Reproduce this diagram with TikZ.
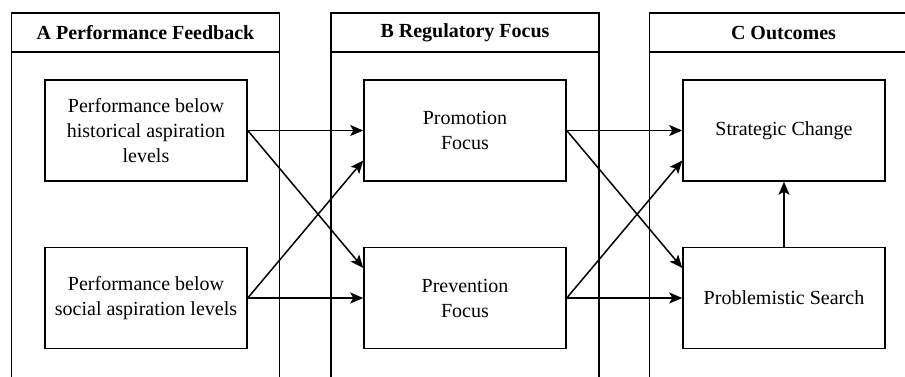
\documentclass[tikz,border=0pt]{standalone}
\usepackage{fontspec}
\setmainfont{Liberation Serif}
\usetikzlibrary{arrows.meta}
\begin{document}
\begin{tikzpicture}[x=1pt,y=-1pt, line width=1.5pt,
 box/.style={draw, fill=white, rectangle, minimum width=202pt, minimum height=101pt, align=center, font=\fontsize{20}{25}\selectfont, inner sep=0pt},
 lanehead/.style={draw, rectangle, minimum width=268pt, minimum height=39pt, font=\bfseries\fontsize{20}{24}\selectfont, inner sep=0pt},
 lanebody/.style={draw, rectangle, minimum width=268pt, minimum height=360pt, inner sep=0pt},
 arr/.style={-{Stealth[length=13pt,width=11pt,inset=3pt]}}]
\useasboundingbox (0,0) rectangle (905,376);
\clip (0,0) rectangle (905,376);
% lanes
\node[lanehead] (ha) at (145.5,32.5) {A Performance Feedback};
\node[lanebody] (la) at (145.5,232) {};
\node[lanehead] (hb) at (465,32.5) {B Regulatory Focus};
\node[lanebody] (lb) at (465,232) {};
\node[lanehead] (hc) at (783.5,32.5) {C Outcomes};
\node[lanebody] (lc) at (783.5,232) {};
% boxes
\node[box] (hist) at (146,130.5) {Performance below\\historical aspiration\\levels};
\node[box] (soc) at (146,298) {Performance below\\social aspiration levels};
\node[box] (prom) at (465,130.5) {Promotion\\Focus};
\node[box] (prev) at (465,298) {Prevention\\Focus};
\node[box] (strat) at (784,130.5) {Strategic Change};
\node[box] (prob) at (784,298) {Problemistic Search};
% arrows
\draw[arr] (hist.east) -- (prom.west);
\draw[arr] (hist.east) -- ([yshift=30pt]prev.west);
\draw[arr] (soc.east) -- ([yshift=-30pt]prom.west);
\draw[arr] (soc.east) -- (prev.west);
\draw[arr] (prom.east) -- (strat.west);
\draw[arr] (prom.east) -- ([yshift=30pt]prob.west);
\draw[arr] (prev.east) -- ([yshift=-30pt]strat.west);
\draw[arr] (prev.east) -- (prob.west);
\draw[arr] (prob.north) -- (strat.south);
\end{tikzpicture}
\end{document}
